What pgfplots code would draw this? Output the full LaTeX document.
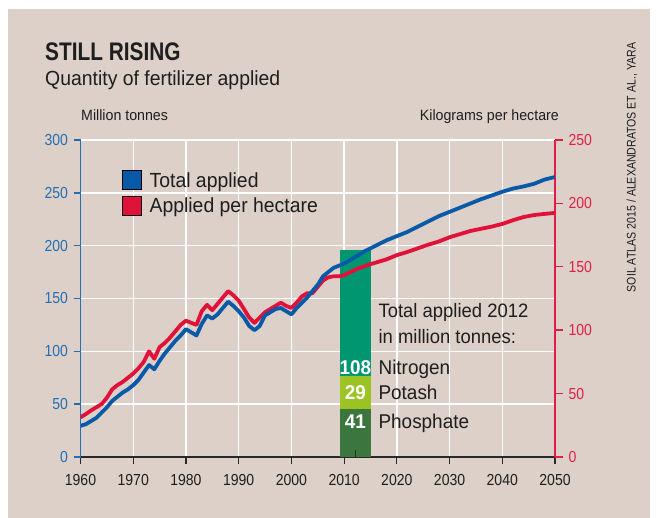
\documentclass[border=0pt]{standalone}
\usepackage{pgfplots}
\pgfplotsset{compat=1.18}
\usepackage{pgfplotstable}
\usepackage{fontspec}
\setmainfont{Liberation Sans}[FakeStretch=0.95]
\newfontfamily\titlefont{Liberation Sans}[FakeStretch=0.82]
\newfontfamily\srcfont{Liberation Sans}[FakeStretch=0.85]
\newfontfamily\tickfont{Liberation Sans}[FakeStretch=0.88]
\definecolor{bgcol}{RGB}{220,208,200}
\definecolor{bluecol}{RGB}{8,90,168}
\definecolor{blueax}{RGB}{35,110,180}
\definecolor{redcol}{RGB}{224,18,58}
\definecolor{redax}{RGB}{226,30,70}
\definecolor{nitro}{RGB}{0,150,112}
\definecolor{potash}{RGB}{155,195,35}
\definecolor{phos}{RGB}{58,118,62}
\definecolor{textcol}{RGB}{30,30,30}
\definecolor{axisdark}{RGB}{40,40,40}

\pgfplotstableread{
year total
1960 29.5
1961 31
1962 34
1963 37
1964 42
1965 47
1966 53
1967 57
1968 61
1969 64
1970 68
1971 73
1972 80
1973 87
1974 83
1975 91
1976 98
1977 104
1978 110
1979 115
1980 121
1981 118
1982 115
1983 126
1984 134
1985 131
1986 135
1987 141
1988 147
1989 143
1990 138
1991 132
1992 124
1993 120
1994 124
1995 134
1996 137
1997 140
1998 141
1999 138
2000 135
2001 141
2002 146
2003 151
2004 157
2005 163
2006 171
2007 175
2008 179
2009 181
2010 183
2012 189
2014 195
2016 200
2018 205
2020 209
2022 213
2024 218
2026 223
2028 228
2030 232
2032 236
2034 240
2036 244
2038 247.5
2040 251
2042 254
2044 256
2046 258.5
2048 262.5
2050 265
}\totaltab

\pgfplotstableread{
year perha
1960 31.3
1961 33.8
1962 36.7
1963 39.2
1964 41.7
1965 46.7
1966 53.3
1967 56.7
1968 59.2
1969 62.5
1970 65.8
1971 70
1972 75
1973 83.3
1974 77.5
1975 86.7
1976 90
1977 94.2
1978 99.2
1979 104.2
1980 107.5
1981 105.8
1982 104.2
1983 115
1984 120
1985 115.8
1986 120.8
1987 125.8
1988 130.8
1989 127.5
1990 123.3
1991 116.7
1992 110
1993 105.8
1994 110
1995 114.2
1996 116.7
1997 119.2
1998 121.7
1999 119.2
2000 117.5
2001 121.7
2002 126.7
2003 129.2
2004 129.2
2005 134.2
2006 139.2
2007 141.7
2008 142.5
2009 142.5
2010 143.3
2012 147.5
2014 150.8
2016 153.3
2018 155.8
2020 159.2
2022 161.7
2024 164.6
2026 167.5
2028 170
2030 173.3
2032 175.8
2034 178.3
2036 180
2038 181.7
2040 183.8
2042 186.7
2044 189.2
2046 190.8
2048 191.7
2050 192.5
}\perhatab

\pgfplotsset{
  geom/.style={at={(80.5bp,61bp)}, anchor=south west, scale only axis,
    width=474.5bp, height=317bp, xmin=1960, xmax=2050},
}

\begin{document}
\begin{tikzpicture}[x=1bp,y=1bp]
\fill[white] (0,0) rectangle (656,518);
\fill[bgcol] (8,0) rectangle (650,509);
\node[anchor=base west, inner sep=0pt, text=textcol, font=\titlefont\bfseries\fontsize{25.5}{30}\selectfont] at (45,457.5) {STILL RISING};
\node[anchor=base west, inner sep=0pt, text=textcol, font=\fontsize{20.5}{24}\selectfont] at (45,432) {Quantity of fertilizer applied};
\node[anchor=base west, inner sep=0pt, text=textcol, font=\fontsize{15}{18}\selectfont] at (81,397) {Million tonnes};
\node[anchor=base east, inner sep=0pt, text=textcol, font=\fontsize{15}{18}\selectfont] at (559,397) {Kilograms per hectare};
\node[rotate=90, inner sep=0pt, text=textcol, font=\srcfont\fontsize{12.5}{15}\selectfont] at (632,350.5) {SOIL ATLAS 2015 / ALEXANDRATOS ET AL., YARA};

% Axis A: left axis, grid, stacked bar, annotations
\begin{axis}[geom, ymin=0, ymax=300,
  axis x line*=bottom, axis y line*=left,
  xtick={1960,1970,...,2050}, ytick={0,50,...,300},
  grid=major, major grid style={white, line width=1.4bp},
  tick align=outside, major tick length=7bp,
  x axis line style={line width=1.6bp, color=axisdark, -},
  y axis line style={line width=1.6bp, color=blueax, -},
  xtick style={axisdark, line width=1.2bp},
  ytick style={blueax, line width=1.4bp},
  /pgf/number format/assume math mode=true,
  /pgf/number format/1000 sep={},
  ticklabel style={font=\tickfont\fontsize{16}{19}\selectfont},
  yticklabel style={text=blueax, xshift=-2bp},
  xticklabel style={text=textcol, yshift=-7bp},
]
\addplot[draw=none, fill=phos] coordinates {(2009.2,0) (2009.2,45.4) (2015.1,45.4) (2015.1,0)} -- cycle;
\addplot[draw=none, fill=potash] coordinates {(2009.2,45.4) (2009.2,77) (2015.1,77) (2015.1,45.4)} -- cycle;
\addplot[draw=none, fill=nitro] coordinates {(2009.2,77) (2009.2,196) (2015.1,196) (2015.1,77)} -- cycle;
\addplot[axisdark, line width=1bp] coordinates {(2012.2,0) (2012.2,6.6)};
\node[anchor=base, inner sep=0pt, text=white, font=\bfseries\fontsize{20}{24}\selectfont] at (axis cs:2012.15,78.5) {108};
\node[anchor=base, inner sep=0pt, text=white, font=\bfseries\fontsize{20}{24}\selectfont] at (axis cs:2012.15,54) {29};
\node[anchor=base, inner sep=0pt, text=white, font=\bfseries\fontsize{20}{24}\selectfont] at (axis cs:2012.15,26.5) {41};
\node[anchor=base west, inner sep=0pt, text=textcol, font=\fontsize{20}{24}\selectfont] at (axis cs:2016.5,78.5) {Nitrogen};
\node[anchor=base west, inner sep=0pt, text=textcol, font=\fontsize{20}{24}\selectfont] at (axis cs:2016.5,54) {Potash};
\node[anchor=base west, inner sep=0pt, text=textcol, font=\fontsize{20}{24}\selectfont] at (axis cs:2016.5,26.5) {Phosphate};
\node[anchor=base west, inner sep=0pt, text=textcol, font=\fontsize{19.5}{24}\selectfont] at (axis cs:2016.5,132) {Total applied 2012};
\node[anchor=base west, inner sep=0pt, text=textcol, font=\fontsize{19.5}{24}\selectfont] at (axis cs:2016.5,107) {in million tonnes:};
\end{axis}

% Axis B: right axis, per hectare
\begin{axis}[geom, ymin=0, ymax=250,
  axis y line*=right, axis x line=none,
  ytick={0,50,...,250},
  tick align=outside, major tick length=8bp,
  y axis line style={line width=1.8bp, color=redax, -},
  ytick style={redax, line width=1.4bp},
  /pgf/number format/assume math mode=true,
  yticklabel style={text=redax, xshift=2bp, font=\tickfont\fontsize{16}{19}\selectfont},
]
\addplot[redcol, line width=3.8bp, line join=round] table[x=year, y=perha] {\perhatab};
\end{axis}

% Axis C: total applied, legend
\begin{axis}[geom, ymin=0, ymax=300, hide axis,
  legend style={at={(0.0875,0.9054)}, anchor=north west, draw=none, fill=none,
    inner xsep=0pt, inner ysep=0pt, row sep=6bp, column sep=8bp,
    nodes={inner sep=0pt, text depth=0pt},
    font=\fontsize{20.5}{24}\selectfont, text=textcol},
  legend cell align=left,
  legend image code/.code={\fill[#1] (0bp,-9.5bp) rectangle (19bp,9.5bp);},
]
\addplot[bluecol, line width=3.8bp, line join=round, forget plot] table[x=year, y=total] {\totaltab};
\addlegendimage{fill=bluecol}
\addlegendimage{fill=redcol}
\legend{Total applied, Applied per hectare}
\end{axis}
\end{tikzpicture}
\end{document}
